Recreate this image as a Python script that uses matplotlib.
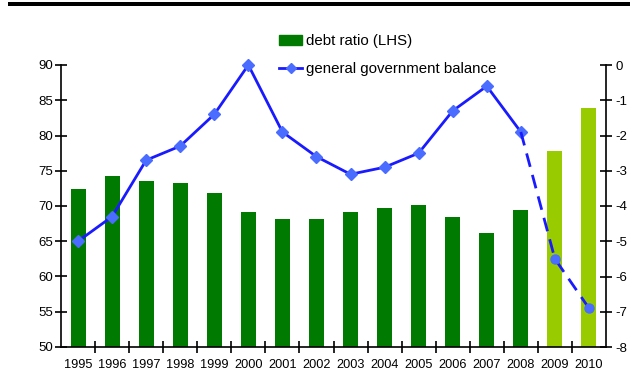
import matplotlib
matplotlib.use("Agg")
import matplotlib.pyplot as plt
from matplotlib.patches import Rectangle
from matplotlib.lines import Line2D
import numpy as np

years = ["1995", "1996", "1997", "1998", "1999", "2000", "2001", "2002",
         "2003", "2004", "2005", "2006", "2007", "2008", "2009", "2010"]
debt_ratio = [72.4, 74.2, 73.6, 73.2, 71.9, 69.2, 68.2, 68.2,
              69.2, 69.7, 70.2, 68.5, 66.1, 69.4, 77.8, 83.9]
gov_balance = [-5.0, -4.3, -2.7, -2.3, -1.4, 0.0, -1.9, -2.6,
               -3.1, -2.9, -2.5, -1.3, -0.6, -1.9, -5.5, -6.9]
n_actual = 14  # 1995-2008 are outturns, 2009-2010 forecasts

left_ticks = [50, 55, 60, 65, 70, 75, 80, 85, 90]
right_ticks = [-8, -7, -6, -5, -4, -3, -2, -1, 0]

dark_green = "#007a00"
light_green = "#99cc00"
line_blue = "#1a1aff"
marker_blue = "#4a6cff"

plt.rcParams["font.family"] = ["Liberation Sans", "DejaVu Sans"]

W, H = 631, 377
fig = plt.figure(figsize=(W / 100, H / 100), dpi=100)
ax = fig.add_axes([61 / W, 1 - 347 / H, (606 - 61) / W, (347 - 65) / H])

x = np.arange(len(years))
colors = [dark_green] * n_actual + [light_green] * (len(years) - n_actual)
ax.bar(x, np.array(debt_ratio) - 50, bottom=50, width=0.44, color=colors, zorder=2)

ax.set_xlim(-0.5, len(years) - 0.5)
ax.set_ylim(50, 90)
ax.set_yticks(left_ticks)
ax.set_yticklabels([str(t) for t in left_ticks])

# category boundaries as major ticks, labels on minor ticks at the centres
ax.set_xticks(np.arange(0.5, len(years) - 1, 1.0))
ax.set_xticklabels([])
ax.set_xticks(x, minor=True)
ax.set_xticklabels(years, minor=True)
ax.tick_params(axis="x", which="major", direction="inout", length=8, width=1.2)
ax.tick_params(axis="x", which="minor", length=0, pad=9, labelsize=9.2)
ax.tick_params(axis="y", direction="inout", length=8, width=1.2, labelsize=9.5, pad=2)

for s in ["top", "right"]:
    ax.spines[s].set_visible(False)
for s in ["left", "bottom"]:
    ax.spines[s].set_linewidth(1.2)

ax2 = ax.twinx()
ax2.set_ylim(-8, 0)
ax2.set_yticks(right_ticks)
ax2.set_yticklabels([str(t) for t in right_ticks])
ax2.tick_params(axis="y", direction="inout", length=8, width=1.2, labelsize=9.5, pad=3)
for s in ["top", "left", "bottom"]:
    ax2.spines[s].set_visible(False)
ax2.spines["right"].set_linewidth(1.2)

ax2.plot(x[:n_actual], gov_balance[:n_actual], color=line_blue, lw=2,
         marker="D", ms=6, mfc=marker_blue, mec=marker_blue, zorder=3,
         clip_on=False)
ax2.plot(x[n_actual - 1:], gov_balance[n_actual - 1:], color=line_blue, lw=2,
         ls=(0, (5, 3)), zorder=3, clip_on=False)
ax2.plot(x[n_actual:], gov_balance[n_actual:], ls="none",
         marker="o", ms=6.5, mfc=marker_blue, mec=marker_blue, zorder=4,
         clip_on=False)

handles = [
    Rectangle((0, 0), 1, 1, color=dark_green),
    Line2D([], [], color=line_blue, lw=2, marker="D", ms=5,
           mfc=marker_blue, mec=marker_blue),
]
fig.legend(handles, ["debt ratio (LHS)", "general government balance"],
           loc="upper left", bbox_to_anchor=(273 / W, 1 - 28 / H),
           frameon=False, fontsize=10.8, handlelength=1.55, handleheight=0.65,
           handletextpad=0.25, labelspacing=0.95, borderaxespad=0)

# heavy rule along the top edge
fig.add_artist(Rectangle((8 / W, 1 - 6 / H), (630 - 8) / W, 4 / H,
                         transform=fig.transFigure, color="black", lw=0))

fig.savefig("out.png", dpi=100)
